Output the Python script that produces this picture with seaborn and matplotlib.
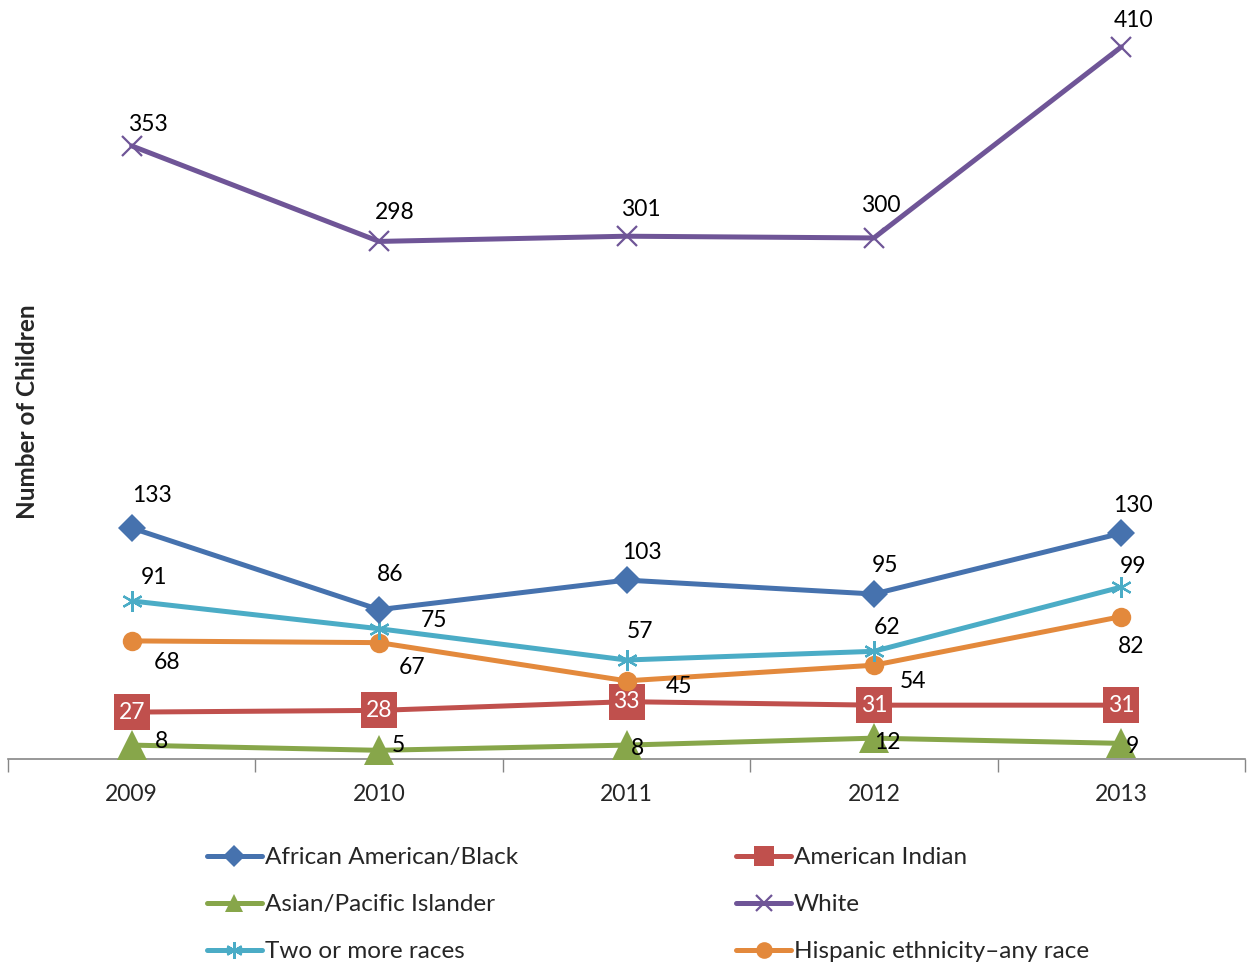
import matplotlib
matplotlib.use("Agg")
import matplotlib.pyplot as plt
from matplotlib.lines import Line2D
import seaborn as sns
import pandas as pd
import numpy as np

years = ["2009", "2010", "2011", "2012", "2013"]

african_american = [133, 86, 103, 95, 130]
american_indian = [27, 28, 33, 31, 31]
asian_pacific = [8, 5, 8, 12, 9]
white = [353, 298, 301, 300, 410]
two_or_more = [91, 75, 57, 62, 99]
hispanic = [68, 67, 45, 54, 82]

series_names = [
    "African American/Black",
    "American Indian",
    "Asian/Pacific Islander",
    "White",
    "Two or more races",
    "Hispanic ethnicity\u2013any race",
]
series_values = [african_american, american_indian, asian_pacific,
                 white, two_or_more, hispanic]

# drawing style per series: colour, marker, marker size, edge width
styles = {
    "African American/Black": dict(color="#4672AE", marker="D", ms=14, mew=0),
    "American Indian": dict(color="#C0504D", marker="s", ms=26, mew=0),
    "Asian/Pacific Islander": dict(color="#87A64A", marker="^", ms=22, mew=0),
    "White": dict(color="#6F5597", marker="x", ms=14, mew=1.6),
    "Two or more races": dict(color="#4BACC6", marker=(6, 2, 0), ms=15, mew=1.6),
    "Hispanic ethnicity\u2013any race": dict(color="#E3893C", marker="o", ms=14, mew=0),
}

# value-label offsets from each point, in pixels (x right, y up)
label_offsets = {
    "African American/Black": [(20, 32), (11, 35), (15, 28), (11, 29), (12, 28)],
    "White": [(16, 21), (16, 29), (14, 27), (7, 32), (12, 26)],
    "Two or more races": [(22, 23), (55, 8), (14, 28), (13, 24), (12, 21)],
    "Hispanic ethnicity\u2013any race": [(35, -22), (33, -25), (52, -6), (39, -16), (10, -30)],
    "Asian/Pacific Islander": [(30, 4), (19, 5), (11, -3), (13, -4), (11, -3)],
    "American Indian": [(0, 0)] * 5,
}

sns.set_theme(style="white")
plt.rcParams["font.family"] = ["Lato", "DejaVu Sans"]

W, H = 1247, 964
fig = plt.figure(figsize=(W / 100, H / 100), dpi=100)
ax = fig.add_axes([8 / W, 1 - 759 / H, 1237 / W, 759 / H])

xpos = np.arange(len(years))
draw_order = ["Asian/Pacific Islander", "American Indian",
              "Hispanic ethnicity\u2013any race", "Two or more races",
              "African American/Black", "White"]

for name in draw_order:
    vals = series_values[series_names.index(name)]
    st = styles[name]
    df = pd.DataFrame({"x": xpos, "y": vals})
    sns.lineplot(data=df, x="x", y="y", ax=ax, color=st["color"], lw=3.6,
                 marker=st["marker"], markersize=st["ms"],
                 markeredgewidth=st["mew"], markeredgecolor=st["color"],
                 markerfacecolor=st["color"], clip_on=False, zorder=3)
    for xi, v, (dx, dy) in zip(xpos, vals, label_offsets[name]):
        if name == "American Indian":
            ax.annotate(str(v), (xi, v), xytext=(0, 0), textcoords="offset pixels",
                        ha="center", va="center", fontsize=16.5, color="white",
                        zorder=5, annotation_clip=False)
        else:
            ax.annotate(str(v), (xi, v), xytext=(dx, dy), textcoords="offset pixels",
                        ha="center", va="center", fontsize=16.5, color="black",
                        zorder=5, annotation_clip=False)

ax.set_xlim(-0.5, 4.5)
ax.set_ylim(0, 437)
ax.set_xlabel("")
ax.set_ylabel("")
ax.set_yticks([])
ax.set_xticks(xpos)
ax.set_xticklabels(years, fontsize=16.5)
ax.set_xticks(np.arange(-0.5, 5.0, 1.0), minor=True)
ax.tick_params(axis="x", which="major", length=0, pad=18)
ax.tick_params(axis="x", which="minor", length=9, width=1, color="#868686",
               direction="out", bottom=True)
for s in ["left", "right", "top"]:
    ax.spines[s].set_visible(False)
ax.spines["bottom"].set_color("#868686")
ax.spines["bottom"].set_linewidth(1.2)
ax.patch.set_alpha(0)

fig.text(28 / W, 1 - 412 / H, "Number of Children", rotation=90,
         ha="center", va="center", fontsize=17.5, fontweight="bold")

legend_order = ["African American/Black", "Asian/Pacific Islander",
                "Two or more races", "American Indian", "White",
                "Hispanic ethnicity\u2013any race"]
legend_ms = {"African American/Black": 11, "American Indian": 15,
             "Asian/Pacific Islander": 13, "White": 12,
             "Two or more races": 12, "Hispanic ethnicity\u2013any race": 12}
handles = []
for name in legend_order:
    st = styles[name]
    handles.append(Line2D([0], [0], color=st["color"], lw=3.6, marker=st["marker"],
                          markersize=legend_ms[name], markeredgewidth=st["mew"],
                          markeredgecolor=st["color"], markerfacecolor=st["color"]))
fig.legend(handles, legend_order, ncol=2, loc="upper left",
           bbox_to_anchor=(207 / W, 1 - 847 / H), frameon=False, fontsize=17.5,
           handlelength=2.25, handletextpad=0.12, columnspacing=9.0,
           labelspacing=1.07, borderaxespad=0, borderpad=0)

fig.savefig("out.png", dpi=100)
